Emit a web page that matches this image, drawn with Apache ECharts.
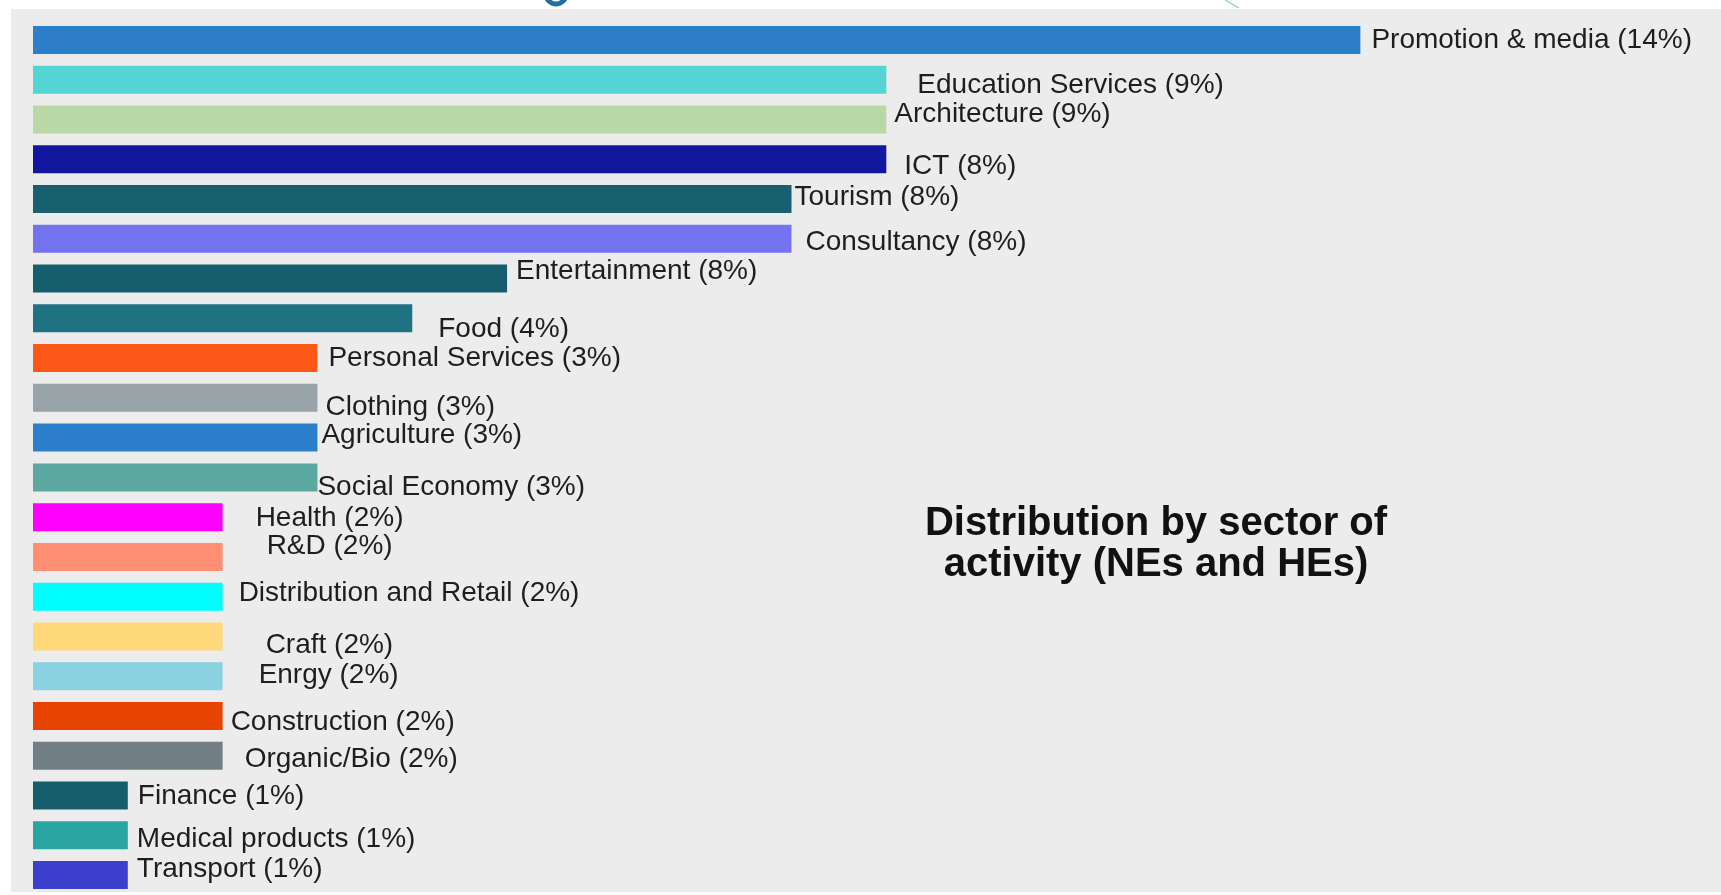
<!DOCTYPE html>
<html>
<head>
<meta charset="utf-8">
<script src="https://cdn.jsdelivr.net/npm/echarts@6/dist/echarts.min.js"></script>
<style>
html,body{margin:0;padding:0;background:#ffffff;}
#chart{width:1721px;height:895px;}
</style>
</head>
<body>
<div id="chart"></div>
<script>
// ---- data ----
var categories = ["Promotion & media","Education Services","Architecture","ICT","Tourism","Consultancy","Entertainment","Food","Personal Services","Clothing","Agriculture","Social Economy","Health","R&D","Distribution and Retail","Craft","Enrgy","Construction","Organic/Bio","Finance","Medical products","Transport"];
var counts = [14,9,9,9,8,8,5,4,3,3,3,3,2,2,2,2,2,2,2,1,1,1];
var shares = ["14%","9%","9%","8%","8%","8%","8%","4%","3%","3%","3%","3%","2%","2%","2%","2%","2%","2%","2%","1%","1%","1%"];
var titleLines = ["Distribution by sector of","activity (NEs and HEs)"];

// ---- styles ----
var barColors = ["#2a7fc8","#55d4d4","#b8d8a8","#12189e","#17606f","#7373ef","#165e6e","#1e7282","#fb5716","#98a3a8","#2b7fca","#5ba8a0","#ff00ff","#ff8e72","#00ffff","#ffd87a","#8ad2e2","#e64400","#717e84","#165e6e","#2aa6a2","#3b3fcc"];
var labelOffsets = [[11,0],[31,6],[8,-5],[18,7],[3,-2],[14,4],[9,-7],[26,11],[11,0],[8,9],[4,-2],[0,10],[33,1],[44,-11],[16,-3],[43,9],[36,-1],[8,6],[22,3],[10,1],[9,4],[9,-6]];

var chart = echarts.init(document.getElementById('chart'), null, {renderer:'canvas'});
var seriesData = counts.map(function(v,i){
  return {
    value: v,
    itemStyle: {color: barColors[i]},
    label: {offset: labelOffsets[i]}
  };
});
chart.setOption({
  animation:false,
  backgroundColor:'#ffffff',
  grid:{left:33, right:171, top:20, bottom:0, containLabel:false},
  xAxis:{type:'value', min:0, max:16, show:false},
  yAxis:{type:'category', data:categories, inverse:true, show:false},
  graphic:[
    {type:'rect', z:-10, shape:{x:11, y:9, width:1710, height:883}, style:{fill:'#ececec'}},
    {type:'line', shape:{x1:1225, y1:0, x2:1239, y2:8}, style:{stroke:'#8cc4d2', lineWidth:1.2}},
    {type:'arc', shape:{cx:556, cy:-6, r:10, startAngle:0, endAngle:Math.PI}, style:{stroke:'#1f6f9f', lineWidth:5, fill:null}},
    {type:'text', x:1156, y:503, z:10, style:{
      text: titleLines.join('\n'),
      font:'bold 40px "Liberation Sans", Arial, sans-serif',
      fill:'#111111', align:'center', verticalAlign:'top', lineHeight:41
    }}
  ],
  series:[{
    type:'bar',
    data:seriesData,
    barWidth:28,
    label:{
      show:true, position:'right', distance:0,
      fontFamily:'"Liberation Sans", Arial, sans-serif', fontSize:28, color:'#1e1e1e',
      formatter:function(p){ return categories[p.dataIndex] + ' (' + shares[p.dataIndex] + ')'; }
    }
  }]
});
</script>
</body>
</html>
